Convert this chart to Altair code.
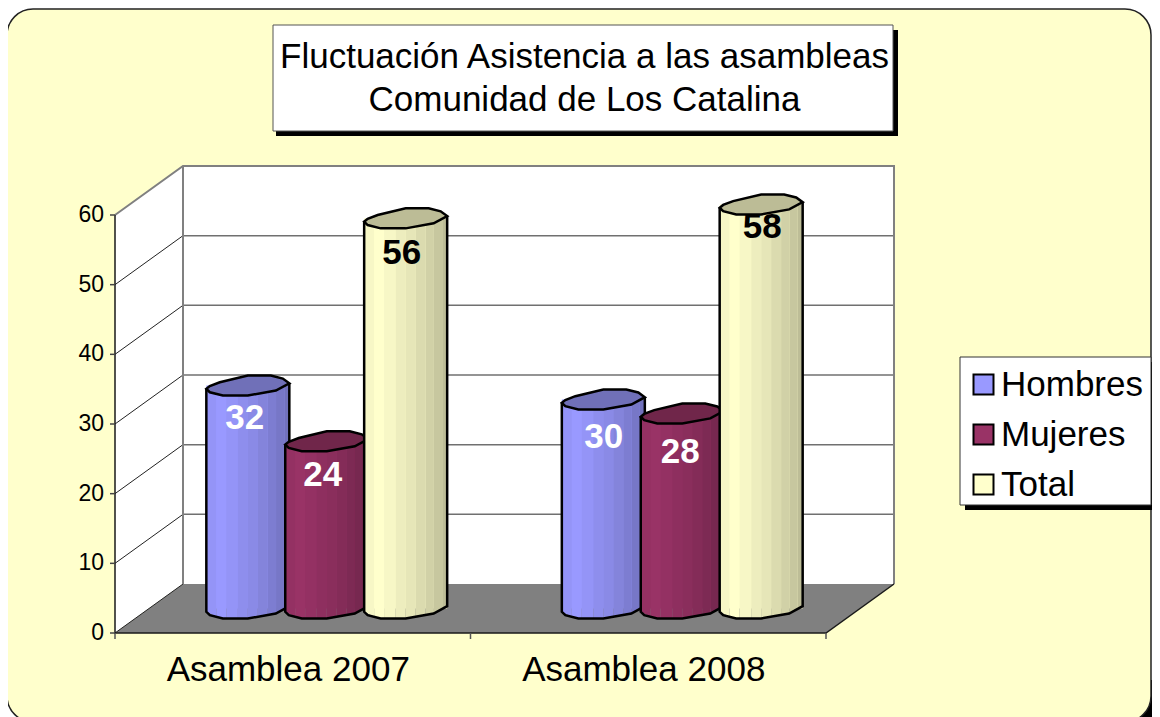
import altair as alt
import pandas as pd

# ---------- chart values ----------
CATEGORIES = ["Asamblea 2007", "Asamblea 2008"]
SERIES = ["Hombres", "Mujeres", "Total"]
HOMBRES = [32, 30]
MUJERES = [24, 28]
TOTAL = [56, 58]
TITLE_LINES = ["Fluctuación Asistencia a las asambleas", "Comunidad de Los Catalina"]
Y_TICKS = [0, 10, 20, 30, 40, 50, 60]
VALUES = {"Hombres": HOMBRES, "Mujeres": MUJERES, "Total": TOTAL}

# ---------- styling / layout ----------
FONT = "Liberation Sans"
BASE_COLORS = {"Hombres": (0x99, 0x99, 0xFF), "Mujeres": (0x99, 0x33, 0x66), "Total": (0xFF, 0xFF, 0xCC)}
TOP_COLORS = {"Hombres": "#7070B8", "Mujeres": "#70264A", "Total": "#BCBC96"}
LABEL_COLORS = {"Hombres": "white", "Mujeres": "white", "Total": "black"}
W, H = 711, 418                     # front plane of the 3-D box
PAD = {"left": 107, "top": 207, "right": 326, "bottom": 84}
PX_X, PX_Y = W / 2, H / 60          # pixels per category, pixels per value unit
DC, DV = 68 / PX_X, 49 / PX_Y       # depth of the 3-D box in data units
xscale = alt.Scale(domain=[0, 2], nice=False, zero=False)
yscale = alt.Scale(domain=[0, 60], nice=False, zero=False)
BAR_OFFSET = {"Hombres": -0.222, "Mujeres": 0.0, "Total": 0.222}
LABEL_NUDGE = {("Hombres", 0): (-3, 32.5), ("Mujeres", 0): (-4, 34), ("Total", 0): (-4, 35),
               ("Hombres", 1): (0.5, 37.6), ("Mujeres", 1): (-2, 38.7), ("Total", 1): (1, 23)}
LOWER = [(-41.5, 3.3), (-38, 6.7), (-25, 10), (0, 10), (28, 5), (41.5, -2.3)]
UPPER = [(35, -7), (23, -10), (0, -10), (-28, -3.3), (-38, 0.5)]
STRIPE_EDGES = [0, .12, .24, .38, .5, .62, .74, .84, .94, 1]
STRIPE_SHADE = [.97, 1.0, .97, .93, .90, .86, .82, .78, .74]
HALF = 41.5
TOP_PATH = "M" + " L".join(f"{x / HALF:.3f},{y / HALF:.3f}" for x, y in LOWER + UPPER) + " Z"


def profile(dx):
    for (x0, y0), (x1, y1) in zip(LOWER, LOWER[1:]):
        if x0 <= dx <= x1:
            return y0 + (y1 - y0) * (dx - x0) / (x1 - x0)
    return LOWER[-1][1]


def hexcol(rgb, k):
    return "#%02X%02X%02X" % tuple(min(255, int(round(c * k))) for c in rgb)


def X(field="c", **kw):
    return alt.X(f"{field}:Q", scale=xscale, axis=None, **kw)


def Y(field="v", **kw):
    return alt.Y(f"{field}:Q", scale=yscale, axis=None, **kw)


def chrome(x, x2, y, y2, **mark):
    """Decorative box given in page pixels."""
    ox, oy = 8 + PAD["left"], 8 + PAD["top"]
    return alt.Chart(alt.Data(values=[{}])).mark_rect(**mark).encode(
        x=alt.value(x - ox), x2=alt.value(x2 - ox), y=alt.value(y - oy), y2=alt.value(y2 - oy))


def frame(rows):
    return pd.DataFrame(rows)


layers = []

# outer panel
layers.append(chrome(1110, 1160, 680, 717, fill="black"))
layers.append(chrome(7, 1151, 9, 722, fill="#FFFFCC", stroke="#222222", strokeWidth=1.5, cornerRadius=26))

# back wall, side wall, floor
layers.append(alt.Chart(frame([{"c": DC, "c2": 2 + DC, "v": DV, "v2": 60 + DV}])).mark_rect(fill="white").encode(
    x=X(), x2="c2:Q", y=Y(), y2="v2:Q"))
layers.append(alt.Chart(frame([{"c": 0, "v": 0, "v2": 60}, {"c": DC, "v": DV, "v2": 60 + DV}]))
              .mark_area(fill="white", orient="vertical").encode(x=X(), y=Y(stack=False), y2="v2:Q"))
layers.append(alt.Chart(frame([{"c": 0, "v": 0, "v2": 0}, {"c": DC, "v": 0, "v2": DV},
                               {"c": 2, "v": 0, "v2": DV}, {"c": 2 + DC, "v": DV, "v2": DV}]))
              .mark_area(fill="#808080", orient="vertical").encode(x=X(), y=Y(stack=False), y2="v2:Q"))

# gridlines on the walls
grid = [{"c": DC, "c2": 2 + DC, "v": t + DV} for t in Y_TICKS[1:-1]]
layers.append(alt.Chart(frame(grid)).mark_rule(color="#707070", strokeWidth=1.5).encode(x=X(), x2="c2:Q", y=Y()))
side = []
for t in Y_TICKS[:-1]:
    side += [{"t": t, "c": 0, "v": t, "i": 0}, {"t": t, "c": DC, "v": t + DV, "i": 1}]
layers.append(alt.Chart(frame(side)).mark_line(color="#222222", strokeWidth=1).encode(
    x=X(), y=Y(), detail="t:N", order="i:Q"))
edges = [{"k": 0, "i": 0, "c": 0, "v": 60}, {"k": 0, "i": 1, "c": DC, "v": 60 + DV},
         {"k": 0, "i": 2, "c": 2 + DC, "v": 60 + DV}, {"k": 0, "i": 3, "c": 2 + DC, "v": DV},
         {"k": 1, "i": 0, "c": DC, "v": 60 + DV}, {"k": 1, "i": 1, "c": DC, "v": DV}]
layers.append(alt.Chart(frame(edges)).mark_line(color="#808080", strokeWidth=2).encode(
    x=X(), y=Y(), detail="k:N", order="i:Q"))
floor_edge = [{"k": 0, "i": 0, "c": 0, "v": 60}, {"k": 0, "i": 1, "c": 0, "v": 0},
              {"k": 0, "i": 2, "c": 2, "v": 0}, {"k": 0, "i": 3, "c": 2 + DC, "v": DV}]
layers.append(alt.Chart(frame(floor_edge)).mark_line(color="#1A1A1A", strokeWidth=1.5).encode(
    x=X(), y=Y(), detail="k:N", order="i:Q"))

# axis ticks and labels, placed through the scales
x_ticks = [{"c": c, "v": 0, "v2": -6 / PX_Y} for c in (0, 1, 2)]
layers.append(alt.Chart(frame(x_ticks)).mark_rule(color="#555555", strokeWidth=1.5).encode(x=X(), y=Y(), y2="v2:Q"))
y_rows = [{"c": 0, "c2": -5 / PX_X, "v": t, "t": str(t)} for t in Y_TICKS]
layers.append(alt.Chart(frame(y_rows)).mark_rule(color="#444444", strokeWidth=1.5).encode(x=X(), x2="c2:Q", y=Y()))
layers.append(alt.Chart(frame(y_rows)).mark_text(
    font=FONT, fontSize=23, color="black", align="right", baseline="middle", dx=-11
).encode(x=X(), y=Y(), text="t:N"))
cat_rows = [{"c": i + .5, "v": 0, "t": name} for i, name in enumerate(CATEGORIES)]
layers.append(alt.Chart(frame(cat_rows)).mark_text(
    font=FONT, fontSize=35, color="black", align="center", baseline="middle", dx=-4.5, dy=37
).encode(x=X(), y=Y(), text="t:N"))

# legend box (the legend itself sits on top of it)
layers.append(chrome(965, 1160, 362, 510, fill="black"))
layers.append(chrome(960, 1151, 357, 505, fill="white", stroke="#333333", strokeWidth=1))

# cylinder core: carries the series colours and the legend
core = []
for s in SERIES:
    for i, val in enumerate(VALUES[s]):
        cc = i + .5 + BAR_OFFSET[s] + DC / 2
        core.append({"serie": s, "c": cc - HALF / PX_X, "c2": cc + HALF / PX_X, "v": DV / 2, "v2": val + DV / 2})
layers.append(alt.Chart(frame(core)).mark_rect().encode(
    x=X(), x2="c2:Q", y=Y(), y2="v2:Q",
    fill=alt.Fill("serie:N",
                  scale=alt.Scale(domain=SERIES, range=[hexcol(BASE_COLORS[s], 1) for s in SERIES]),
                  legend=alt.Legend(orient="none", legendX=845, legendY=146, title=None,
                                    padding=6, symbolOffset=0, symbolType="square",
                                    symbolSize=400, symbolStrokeColor="black", symbolStrokeWidth=2, symbolOpacity=1,
                                    labelFont=FONT, labelFontSize=35, labelColor="black", labelOffset=0,
                                    labelLimit=300, rowPadding=14, zindex=1))))

# shaded cylinders, one series after the other so that later ones overlap earlier ones
for s in SERIES:
    stripes, outline, tops = [], [], []
    for i, val in enumerate(VALUES[s]):
        cc = i + .5 + BAR_OFFSET[s] + DC / 2
        top, base = val + DV / 2, DV / 2
        for j, k in enumerate(STRIPE_SHADE):
            col = hexcol(BASE_COLORS[s], k)
            for e in (STRIPE_EDGES[j], STRIPE_EDGES[j + 1]):
                dx = -HALF + 2 * HALF * e
                pr = profile(dx) / PX_Y
                stripes.append({"id": f"{i}-{j}", "col": col, "c": cc + dx / PX_X, "v": top - pr, "v2": base - pr})
        tops.append({"c": cc, "v": top})
        n = 0
        outline.append({"b": i, "i": n, "c": cc - HALF / PX_X, "v": top - LOWER[0][1] / PX_Y})
        for dx, dy in LOWER:
            n += 1
            outline.append({"b": i, "i": n, "c": cc + dx / PX_X, "v": base - dy / PX_Y})
        outline.append({"b": i, "i": n + 1, "c": cc + HALF / PX_X, "v": top - LOWER[-1][1] / PX_Y})
    layers.append(alt.Chart(frame(stripes)).mark_area(orient="vertical").encode(
        x=X(), y=Y(stack=False), y2="v2:Q", fill=alt.Fill("col:N", scale=None), detail="id:N"))
    layers.append(alt.Chart(frame(outline)).mark_line(color="black", strokeWidth=2.5).encode(
        x=X(), y=Y(), detail="b:N", order="i:Q"))
    layers.append(alt.Chart(frame(tops)).mark_point(
        shape=TOP_PATH, size=(2 * HALF) ** 2, filled=True, fill=TOP_COLORS[s], stroke="black", strokeWidth=2.5,
        opacity=1, fillOpacity=1, strokeOpacity=1).encode(x=X(), y=Y()))

# data labels
for s in SERIES:
    rows = []
    for i, val in enumerate(VALUES[s]):
        ndx, ndy = LABEL_NUDGE[(s, i)]
        rows.append({"c": i + .5 + BAR_OFFSET[s] + DC / 2 + ndx / PX_X, "v": val + DV / 2 - ndy / PX_Y, "t": str(val)})
    layers.append(alt.Chart(frame(rows)).mark_text(
        font=FONT, fontSize=35, fontWeight="bold", color=LABEL_COLORS[s], align="center", baseline="middle"
    ).encode(x=X(), y=Y(), text="t:N"))

# title box
layers.append(chrome(276, 898, 30, 136, fill="black"))
layers.append(chrome(273, 893, 25, 131, fill="white", stroke="#555555", strokeWidth=1))

chart = alt.layer(*layers).properties(
    width=W, height=H, padding=PAD, autosize=alt.AutoSizeParams(type="none"), background="white",
    title=alt.TitleParams(text=TITLE_LINES, anchor="middle", font=FONT, fontSize=35, fontWeight="normal",
                          color="black", lineHeight=43, baseline="top", dx=114, dy=110, zindex=1, offset=0),
).configure_view(stroke=None)

chart.save("out.html", embed_options={"renderer": "svg", "actions": False})
